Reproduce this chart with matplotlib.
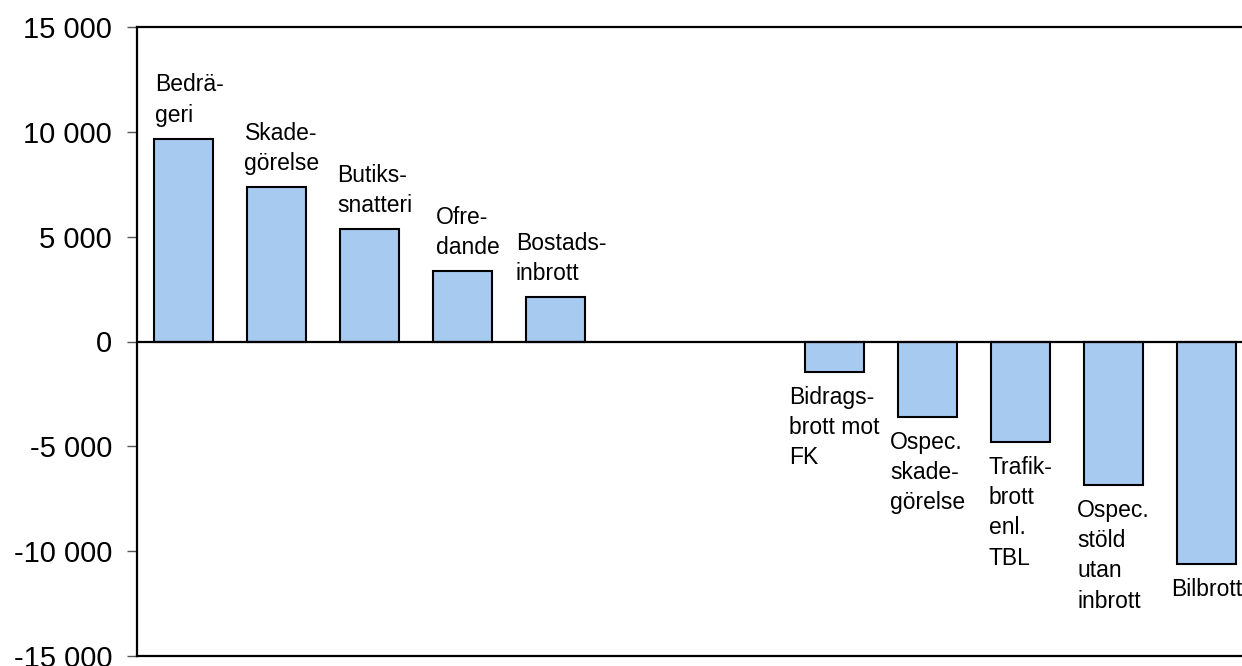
import matplotlib
matplotlib.use("Agg")
import matplotlib.pyplot as plt
from matplotlib.ticker import FuncFormatter

# Data (two empty category slots between the positive and negative groups)
categories = ["Bedrä-\ngeri", "Skade-\ngörelse", "Butiks-\nsnatteri", "Ofre-\ndande",
              "Bostads-\ninbrott", "", "",
              "Bidrags-\nbrott mot\nFK", "Ospec.\nskade-\ngörelse", "Trafik-\nbrott\nenl.\nTBL",
              "Ospec.\nstöld\nutan\ninbrott", "Bilbrott"]
values = [9650, 7350, 5350, 3350, 2100, None, None,
          -1450, -3600, -4800, -6850, -10600]
yticks = [-15000, -10000, -5000, 0, 5000, 10000, 15000]

plt.rcParams['font.family'] = ['Liberation Sans', 'DejaVu Sans']

fig = plt.figure(figsize=(12.42, 6.66), dpi=100)
W, H = 1242, 666
ax = fig.add_axes([137 / W, 10 / H, 1116 / W, 629 / H])

xs = [i for i, v in enumerate(values) if v is not None]
vs = [v for v in values if v is not None]
labs = [categories[i] for i in xs]

ax.bar(xs, vs, width=0.63, color="#A6CAF0", edgecolor="black", linewidth=1.5, zorder=2)
ax.axhline(0, color="black", linewidth=1.6, zorder=3)

ax.set_xlim(-0.5, len(categories) - 0.5)
ax.set_ylim(-15000, 15000)
ax.set_yticks(yticks)
ax.yaxis.set_major_formatter(FuncFormatter(lambda v, p: f"{int(v):,}".replace(",", " ")))
ax.tick_params(axis='y', labelsize=21, length=7, width=1.0, pad=11, direction='out',
               color="#555555")
ax.set_xticks([])

for s in ["top", "bottom", "left"]:
    ax.spines[s].set_linewidth(1.6)
ax.spines["right"].set_visible(False)

for x, v, lab in zip(xs, vs, labs):
    if v >= 0:
        ax.annotate(lab, (x, v), xytext=(4, 9), textcoords="offset points",
                    ha="center", va="bottom", multialignment="left",
                    fontsize=16.5, linespacing=1.4)
    else:
        ax.annotate(lab, (x, v), xytext=(0, -10), textcoords="offset points",
                    ha="center", va="top", multialignment="left",
                    fontsize=16.5, linespacing=1.4)

fig.savefig("out.png", dpi=100)
